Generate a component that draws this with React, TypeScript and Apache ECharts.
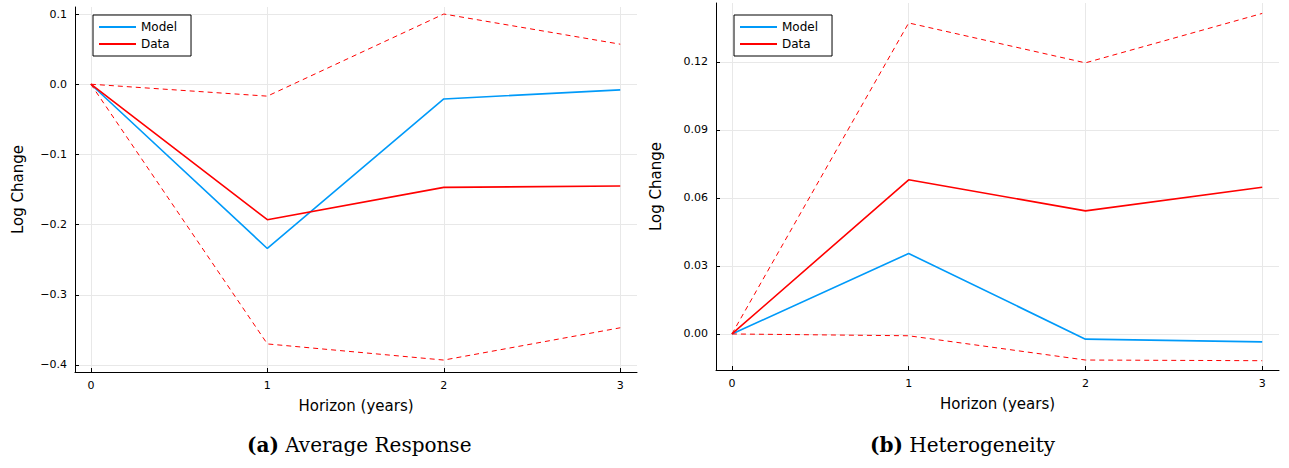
import React, { useEffect, useRef } from "react";
import * as echarts from "echarts";

const horizons = [0, 1, 2, 3];
const xTicks = [0, 1, 2, 3];
const avgModel = [0, -0.234, -0.021, -0.008];
const avgData = [0, -0.193, -0.147, -0.145];
const avgUpper = [0, -0.017, 0.1, 0.057];
const avgLower = [0, -0.37, -0.393, -0.347];
const avgTicks = [-0.4, -0.3, -0.2, -0.1, 0, 0.1];
const hetModel = [0, 0.0355, -0.0023, -0.0035];
const hetData = [0, 0.068, 0.0543, 0.0647];
const hetUpper = [0, 0.1372, 0.1196, 0.1414];
const hetLower = [0, -0.0008, -0.0115, -0.0118];
const hetTicks = [0, 0.03, 0.06, 0.09, 0.12];

const BLUE = "#009af9";
const RED = "#ff0000";
const FONT = "DejaVu Sans";

function pts(v: number[]) {
  return horizons.map((h, i) => [h, v[i]]);
}

export default function App() {
  const ref = useRef<HTMLDivElement>(null);
  useEffect(() => {
    document.body.style.margin = "0";
    const chart = echarts.init(ref.current!, null, { renderer: "svg" });
    const fmtMinus = (v: number, dec: number) => v.toFixed(dec).replace("-", "\u2212");
    const xAxis = (gi: number) => ({
      type: "value",
      gridIndex: gi,
      min: -0.09,
      max: 3.095,
      name: "Horizon (years)",
      nameLocation: "middle",
      nameGap: 26,
      nameTextStyle: { fontFamily: FONT, fontSize: 15, color: "#000" },
      axisLine: { show: true, onZero: false, lineStyle: { color: "#000" } },
      axisTick: { show: true, customValues: xTicks, length: 4, inside: true, lineStyle: { color: "#000" } },
      axisLabel: { customValues: xTicks, fontFamily: FONT, fontSize: 11, color: "#000", margin: 8 },
      splitLine: { show: true, lineStyle: { color: "#e8e8e8" } },
    });
    const yAxis = (gi: number, min: number, max: number, ticks: number[], dec: number) => ({
      type: "value",
      gridIndex: gi,
      min,
      max,
      name: "Log Change",
      nameLocation: "middle",
      nameGap: gi === 0 ? 50 : 53,
      nameTextStyle: { fontFamily: FONT, fontSize: 15, color: "#000" },
      axisLine: { show: true, onZero: false, lineStyle: { color: "#000" } },
      axisTick: { show: true, customValues: ticks, length: 4, inside: true, lineStyle: { color: "#000" } },
      axisLabel: {
        customValues: ticks,
        fontFamily: FONT,
        fontSize: 11,
        color: "#000",
        formatter: (v: number) => fmtMinus(v, dec),
      },
      splitLine: { show: true, lineStyle: { color: "#e8e8e8" } },
    });
    const line = (name: string, data: number[], color: string, gi: number, dashed: boolean, w: number) => ({
      type: "line",
      name,
      xAxisIndex: gi,
      yAxisIndex: gi,
      data: pts(data),
      showSymbol: false,
      symbol: "none",
      lineStyle: { color, width: w, type: dashed ? [5, 4] : "solid" },
      itemStyle: { color },
    });
    const legend = (left: number) => ({
      left,
      top: 15,
      orient: "vertical",
      data: ["Model", "Data"],
      itemWidth: 37,
      itemHeight: 2,
      itemGap: 5,
      padding: [6, 14, 6, 6],
      borderColor: "#000",
      borderWidth: 1,
      backgroundColor: "#fff",
      icon: "rect",
      textStyle: { fontFamily: FONT, fontSize: 12, color: "#000" },
      selectedMode: false,
    });
    const caption = (cx: number, label: string, title: string) => ({
      type: "text",
      left: cx - 110,
      top: 435,
      style: {
        text: `{b|${label}} ${title}`,
        fontFamily: "DejaVu Serif",
        fontSize: 20,
        fill: "#000",
        rich: { b: { fontWeight: "bold", fontFamily: "DejaVu Serif", fontSize: 20 } },
      },
    });
    chart.setOption({
      animation: false,
      backgroundColor: "#fff",
      grid: [
        { left: 75, top: 7, width: 562, height: 365 },
        { left: 716, top: 3, width: 563, height: 367 },
      ],
      xAxis: [xAxis(0), xAxis(1)],
      yAxis: [yAxis(0, -0.41, 0.11, avgTicks, 1), yAxis(1, -0.0159, 0.146, hetTicks, 2)],
      legend: [legend(93), legend(734)],
      series: [
        line("Model", avgModel, BLUE, 0, false, 1.6),
        line("Data", avgData, RED, 0, false, 1.6),
        line("U", avgUpper, RED, 0, true, 1),
        line("L", avgLower, RED, 0, true, 1),
        line("Model", hetModel, BLUE, 1, false, 1.6),
        line("Data", hetData, RED, 1, false, 1.6),
        line("U", hetUpper, RED, 1, true, 1),
        line("L", hetLower, RED, 1, true, 1),
      ],
      graphic: [
        caption(357, "(a)", "Average Response"),
        { ...caption(970, "(b)", "Heterogeneity"), left: 970 - 100 },
      ],
    });
    return () => chart.dispose();
  }, []);
  return <div ref={ref} style={{ width: 1289, height: 468 }} />;
}
